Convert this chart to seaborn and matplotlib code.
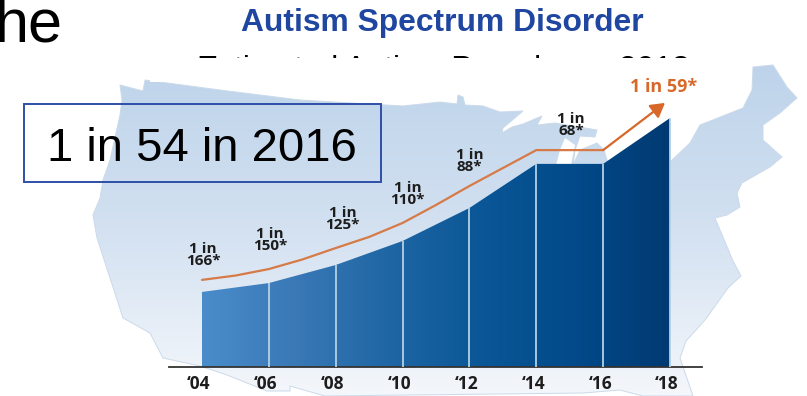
import numpy as np
import pandas as pd
import seaborn as sns
import matplotlib
matplotlib.use("Agg")
import matplotlib.pyplot as plt
from matplotlib.colors import LinearSegmentedColormap
from matplotlib.patches import Polygon, Rectangle
from matplotlib.transforms import ScaledTranslation

# Surveillance years and the "1 in N" prevalence at each one
years = [2004, 2006, 2008, 2010, 2012, 2014, 2016, 2018]
one_in = [166, 150, 125, 110, 88, 68, 68, 59]
year_labels = ["‘04", "‘06", "‘08", "‘10", "‘12", "‘14", "‘16", "‘18"]

# Trend line running above the bars, per 1000 children
trend_years = [2004, 2005, 2006, 2007, 2008, 2009, 2010, 2011, 2012, 2014, 2016, 2017.85]
trend_rate = [6.9, 7.22, 7.7, 8.25, 8.77, 9.37, 10.33, 11.59, 13.03, 15.38, 15.38, 17.68]

# The graphic's vertical axis is not linear: rate per 1000 against bar height
scale_rate = [0, 6.02, 6.67, 8.0, 9.09, 11.36, 14.7, 16.95, 18.5]
scale_height = [0, 75, 84, 102, 126, 159, 203, 249, 281]

# Outline of the United States behind the chart, in canvas pixels
map_x = [120, 143, 145, 220, 300, 403, 440, 457, 458, 463, 465, 483, 500, 523, 503, 502,
         512, 523, 542, 537, 555, 597, 595, 580, 575, 573, 580, 597, 604, 607, 610, 670,
         690, 700, 743, 752, 753, 773, 787, 797, 780, 763, 763, 782, 770, 742, 737, 740,
         727, 715, 733, 741, 728, 705, 686, 680, 693, 643, 620, 583, 325, 290, 290, 267,
         227, 200, 163, 150, 123, 110, 97, 93, 100, 103, 110, 120, 122]
map_y = [85, 91, 80, 90, 100, 106, 102, 104, 95, 97, 105, 106, 112, 111, 128, 133,
         127, 124, 116, 125, 123, 130, 137, 136, 150, 165, 150, 143, 150, 160, 170, 162,
         143, 125, 108, 90, 67, 65, 87, 98, 113, 125, 140, 157, 167, 183, 193, 207,
         215, 218, 261, 276, 288, 320, 341, 358, 396, 396, 390, 393, 396, 386, 391, 391,
         375, 366, 358, 333, 318, 278, 238, 215, 198, 180, 160, 115, 100]

# Lake Michigan, cut out of the land
lake_x = [565, 575, 571, 556, 560]
lake_y = [138, 145, 165, 165, 150]

W, H = 807, 396
sns.set_theme(style="white")
plt.rcParams["font.family"] = ["Liberation Sans", "DejaVu Sans"]

fig = plt.figure(figsize=(W / 100, H / 100), dpi=100, facecolor="white")

# Canvas layer in pixel units, for the backdrop and slide text
canvas = fig.add_axes([0, 0, 1, 1], zorder=0)
canvas.set_xlim(0, W)
canvas.set_ylim(H, 0)
canvas.axis("off")

map_cmap = LinearSegmentedColormap.from_list("map", ["#bdd3ea", "#d3e1f1", "#f4f7fb"])
map_img = canvas.imshow(np.linspace(0, 1, 256)[:, None], cmap=map_cmap,
                        extent=[0, W, 396, 60], aspect="auto", zorder=1)
outline = Polygon(np.column_stack([map_x, map_y]), closed=True, fc="none",
                  ec="#cbdaea", lw=0.7, zorder=2)
canvas.add_patch(outline)
map_img.set_clip_path(outline)
canvas.add_patch(Polygon(np.column_stack([lake_x, lake_y]), closed=True, fc="white",
                         ec="none", zorder=2))
canvas.set_xlim(0, W)
canvas.set_ylim(H, 0)

canvas.text(63, 41, "he", ha="right", va="baseline", fontsize=44, color="black",
            clip_on=True, zorder=5)
canvas.text(442, 31.5, "Autism Spectrum Disorder", ha="center", va="baseline",
            fontsize=22.9, fontweight="bold", color="#1f46a0", zorder=5)
canvas.text(443, 78, "Estimated Autism Prevalence 2018", ha="center", va="baseline",
            fontsize=22.9, color="black", zorder=3)
canvas.add_patch(Rectangle((150, 57.5), 600, 24, fc="white", ec="none", zorder=4))

canvas.add_patch(Rectangle((24, 104), 357, 78, fc="none", ec="#2e4fa8", lw=1.4, zorder=6))
canvas.text(202, 161, "1 in 54 in 2016", ha="center", va="baseline",
            fontsize=34, color="black", zorder=7)

# Chart layer: x in years, y in rate per 1000
left_px, right_px, base_px = 169, 702, 367
px_per_year = (670 - 202) / 14
chart = fig.add_axes([left_px / W, 1 - base_px / H, (right_px - left_px) / W,
                      scale_height[-1] / H], zorder=2)
chart.patch.set_alpha(0)
chart.set_xlim(2004 - (202 - left_px) / px_per_year, 2018 + (right_px - 670) / px_per_year)
chart.set_yscale("function", functions=(
    lambda v: np.interp(v, scale_rate, scale_height),
    lambda h: np.interp(h, scale_height, scale_rate)))
chart.set_ylim(0, scale_rate[-1])

data = pd.DataFrame({"year": years, "one_in": one_in})
data["rate"] = 1000 / data["one_in"]

area = chart.fill_between(data["year"], 0, data["rate"], fc="none", ec="none")

bar_cmap = LinearSegmentedColormap.from_list(
    "bars", ["#4a8ccb", "#3a78b6", "#1f66a4", "#0a5696", "#024a8a", "#013a72"])
gradient = canvas.imshow(np.linspace(0, 1, 256)[None, :], cmap=bar_cmap, aspect="auto",
                         extent=[202, 670, base_px, 100], zorder=3)
gradient.set_clip_path(area.get_paths()[0], chart.transData)
canvas.set_xlim(0, W)
canvas.set_ylim(H, 0)

chart.vlines(data["year"][1:], 0, data["rate"][1:], color="#b4d0e6", lw=1.3, zorder=3)

trend = pd.DataFrame({"year": trend_years, "rate": trend_rate})
sns.lineplot(data=trend.iloc[:-1], x="year", y="rate", color="#d67a48", lw=1.6,
             ax=chart, zorder=4, legend=False, errorbar=None, sort=False)
chart.annotate("", xy=(trend_years[-1], trend_rate[-1]), xytext=(trend_years[-2], trend_rate[-2]),
               arrowprops=dict(arrowstyle="-|>,head_length=0.6,head_width=0.35", color="#d8682a",
                               lw=1.6, shrinkA=0, shrinkB=0, mutation_scale=14), zorder=5)

# Prevalence labels placed above each year, stacked as "1 in" / "N*"
label_font = ["Open Sans", "DejaVu Sans"]
label_dx = [1, 1, 7, 5, 0, 35, None, None]
label_dy = [37, 43, 46, 47, 47, 39, None, None]
for yr, n, rate, dx, dy in zip(data["year"], data["one_in"], data["rate"], label_dx, label_dy):
    if dx is None:
        continue
    chart.annotate(f"1 in\n{n}*", xy=(yr, rate), xytext=(dx, dy), textcoords="offset pixels",
                   ha="center", va="center", fontsize=11, fontweight="bold", linespacing=0.88,
                   family=label_font, color="#1d1d1d", zorder=6)
chart.annotate(f"1 in {one_in[-1]}*", xy=(2018, data["rate"].iloc[-1]), xytext=(-6, 31),
               textcoords="offset pixels", ha="center", va="center", fontsize=13,
               fontweight="bold", family=label_font, color="#d8682a", zorder=6)

chart.set_xticks(years)
chart.set_xticklabels(year_labels, fontsize=12.5, fontweight="bold", family=label_font,
                      color="#1d1d1d")
chart.tick_params(axis="x", length=0, pad=6)
shift = ScaledTranslation(-3 / 100, 0, fig.dpi_scale_trans)
for tick in chart.get_xticklabels():
    tick.set_transform(tick.get_transform() + shift)
chart.set_yticks([])
chart.minorticks_off()
chart.set_xlabel("")
chart.set_ylabel("")
for side in ("top", "left", "right"):
    chart.spines[side].set_visible(False)
chart.spines["bottom"].set_color("#333333")
chart.spines["bottom"].set_linewidth(1.3)

fig.savefig("out.png", dpi=100, facecolor="white")
